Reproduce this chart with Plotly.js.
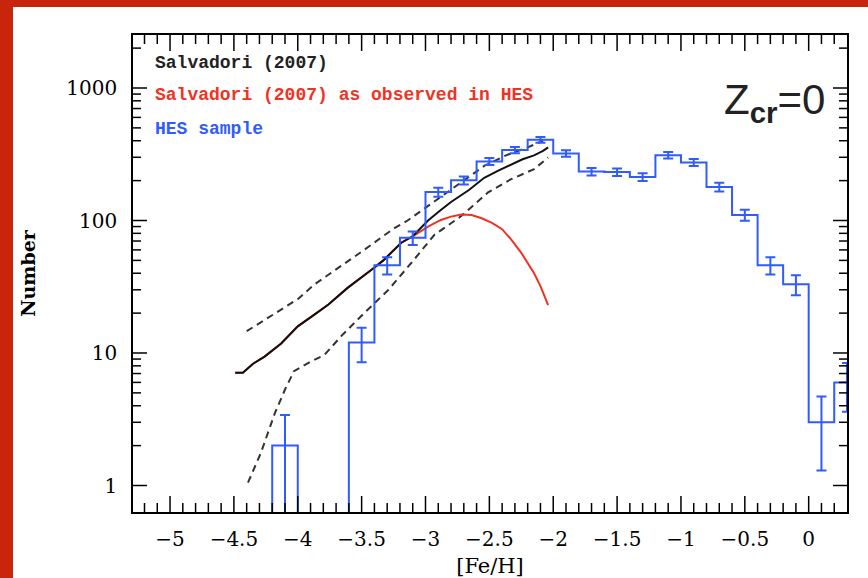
<!DOCTYPE html>
<html>
<head>
<meta charset="utf-8">
<script src="https://cdn.plot.ly/plotly-3.0.1.min.js"></script>
<style>
  html, body { margin: 0; padding: 0; background: #c8260c; width: 868px; height: 578px; overflow: hidden; }
  #chart { position: absolute; left: 13px; top: 7px; width: 855px; height: 571px; background: #fff; }
</style>
</head>
<body>
<div id="chart"></div>
<script>
// ---- HES sample histogram (bin edges and counts) ----
const hesEdges  = [-4.2, -4.0, -3.6, -3.4, -3.2, -3.0, -2.8, -2.6, -2.4, -2.2, -2.0, -1.8, -1.6, -1.4, -1.2, -1.0, -0.8, -0.6, -0.4, -0.2, 0.0, 0.2, 0.4];
const hesCounts = [2, 0, 12, 46, 74, 164, 201, 279, 340, 406, 321, 234, 232, 213, 311, 274, 179, 110, 46, 33, 3, 6];

// error bars (bin centres, counts, errors)
const errX   = [-4.1, -3.5, -3.3, -3.1, -2.9, -2.7, -2.5, -2.3, -2.1, -1.9, -1.7, -1.5, -1.3, -1.1, -0.9, -0.7, -0.5, -0.3, -0.1, 0.1, 0.3];
const errY   = [2, 12, 46, 74, 164, 201, 279, 340, 406, 321, 234, 232, 213, 311, 274, 179, 110, 46, 33, 3, 6];
const errVal = [1.4, 3.5, 6.8, 8.6, 12.8, 14.2, 16.7, 18.4, 20.1, 17.9, 15.3, 15.2, 14.6, 17.6, 16.6, 13.4, 10.5, 6.8, 5.7, 1.7, 2.4];

// ---- Salvadori (2007) model ----
const salvX = [-4.49, -4.43, -4.35, -4.26, -4.13, -4.00, -3.87, -3.76, -3.61, -3.50, -3.42, -3.33, -3.27, -3.19, -3.10, -2.98, -2.88, -2.80, -2.66, -2.54, -2.43, -2.33, -2.24, -2.15, -2.08, -2.04];
const salvY = [7.1, 7.1, 8.3, 9.4, 11.8, 15.9, 19.5, 23.2, 31, 37, 42.7, 50, 57, 68, 76, 100, 120, 138, 170, 210, 238, 265, 290, 310, 335, 356];

// ---- Salvadori (2007) as observed in HES ----
const obsX = [-4.49, -4.43, -4.35, -4.26, -4.13, -4.00, -3.87, -3.76, -3.61, -3.50, -3.42, -3.33, -3.27, -3.19, -3.10, -2.98, -2.88, -2.80, -2.72, -2.64, -2.56, -2.48, -2.40, -2.33, -2.25, -2.20, -2.15, -2.10, -2.06, -2.04];
const obsY = [7.1, 7.1, 8.3, 9.4, 11.8, 15.9, 19.5, 23.2, 31, 37, 42.7, 50, 57, 68, 76, 90, 101, 107, 111, 110, 104, 96, 86, 72, 57, 48, 40, 32, 26, 23];

// ---- dashed envelope (upper / lower) ----
const upX = [-4.40, -4.30, -4.13, -4.00, -3.87, -3.74, -3.61, -3.48, -3.35, -3.24, -3.14, -3.00, -2.85, -2.70, -2.54, -2.37, -2.20, -2.08];
const upY = [14.6, 16.8, 21.3, 25.5, 32.9, 40, 49.3, 60, 74, 88, 100, 125, 158, 200, 258, 310, 356, 400];
const loX = [-4.39, -4.29, -4.18, -4.10, -4.03, -3.92, -3.79, -3.66, -3.48, -3.29, -3.11, -2.93, -2.72, -2.51, -2.33, -2.15, -2.04];
const loY = [1.05, 1.75, 3.5, 5.3, 7.3, 8.4, 9.7, 13.4, 20, 30, 48, 78, 108, 163, 205, 244, 299];

// tick labels
const yTickVals = [1, 10, 100, 1000];
const yTickText = ['1', '10', '100', '1000'];

const BLUE = '#2f5bff', RED = '#ee3324', BLACK = '#111111';

// axis ranges
const X_RANGE = [-5.29, 0.30];
const Y_LOG_RANGE = [-0.2, 3.4];

// build step histogram (zero counts sit below the log axis)
const FLOOR = 1e-3;
const stepX = [hesEdges[0]], stepY = [FLOOR];
for (let i = 0; i < hesCounts.length; i++) {
  stepX.push(hesEdges[i]);
  stepY.push(hesCounts[i] > 0 ? hesCounts[i] : FLOOR);
}
stepX.push(hesEdges[hesEdges.length - 1]);
stepY.push(hesCounts[hesCounts.length - 1] > 0 ? hesCounts[hesCounts.length - 1] : FLOOR);

const traces = [
  { x: loX, y: loY, mode: 'lines', line: { color: '#333', width: 2, dash: '7px,5px' } },
  { x: upX, y: upY, mode: 'lines', line: { color: '#333', width: 2, dash: '7px,5px' } },
  { x: obsX, y: obsY, mode: 'lines', line: { color: RED, width: 2 } },
  { x: salvX, y: salvY, mode: 'lines', line: { color: BLACK, width: 2 } },
  { x: stepX, y: stepY, mode: 'lines', line: { color: BLUE, width: 2, shape: 'hv' } },
  { x: errX, y: errY, mode: 'markers', marker: { size: 1, color: BLUE, opacity: 0 },
    error_y: { type: 'data', array: errVal, arrayminus: errVal, visible: true, color: BLUE, thickness: 2, width: 5 } }
];

// ---- tick marks on all four sides of the frame (inside ticks) ----
const PLOT_W = 855 - 120 - 21, PLOT_H = 571 - 28 - 66;
const tickLine = { color: '#000', width: 1.5 };
const shapes = [];
for (let i = -52; i <= 2; i++) {               // x ticks every 0.1, major every 0.5
  const v = i / 10;
  const len = (i % 5 === 0 ? 16 : 9) / PLOT_H;
  shapes.push({ type: 'line', xref: 'x', yref: 'paper', x0: v, x1: v, y0: 0, y1: len, line: tickLine });
  shapes.push({ type: 'line', xref: 'x', yref: 'paper', x0: v, x1: v, y0: 1, y1: 1 - len, line: tickLine });
}
for (let d = 0; d <= 3; d++) {                  // y ticks at 1..9 x 10^d, major at decades
  for (let k = 1; k <= 9; k++) {
    const lv = d + Math.log10(k);
    if (lv <= Y_LOG_RANGE[0] || lv >= Y_LOG_RANGE[1]) continue;
    const py = (lv - Y_LOG_RANGE[0]) / (Y_LOG_RANGE[1] - Y_LOG_RANGE[0]);
    const len = (k === 1 ? 14 : 8) / PLOT_W;
    shapes.push({ type: 'line', xref: 'paper', yref: 'paper', x0: 0, x1: len, y0: py, y1: py, line: tickLine });
    shapes.push({ type: 'line', xref: 'paper', yref: 'paper', x0: 1, x1: 1 - len, y0: py, y1: py, line: tickLine });
  }
}

const tickFont = { family: 'DejaVu Serif', size: 20, color: '#000' };

const layout = {
  width: 855, height: 571,
  margin: { l: 120, r: 21, t: 28, b: 66 },
  paper_bgcolor: '#ffffff', plot_bgcolor: '#ffffff',
  showlegend: false,
  xaxis: {
    range: X_RANGE, showgrid: false, zeroline: false,
    showline: true, linecolor: '#000', linewidth: 1.5, mirror: true,
    ticks: '', tickmode: 'linear', tick0: 0, dtick: 0.5,
    tickfont: tickFont, ticklabelstandoff: 8,
    title: { text: '[Fe/H]', font: { family: 'DejaVu Serif', size: 21, color: '#000' }, standoff: 12 }
  },
  yaxis: {
    type: 'log', range: Y_LOG_RANGE, showgrid: false, zeroline: false,
    showline: true, linecolor: '#000', linewidth: 1.5, mirror: true,
    ticks: '', tickmode: 'array', tickvals: yTickVals, ticktext: yTickText,
    tickfont: tickFont, ticklabelstandoff: 10,
    title: { text: '<b>Number</b>', font: { family: 'DejaVu Serif', size: 19, color: '#000' }, standoff: 26 }
  },
  shapes: shapes,
  annotations: [
    { xref: 'paper', yref: 'paper', x: 0.028, y: 0.9407, xanchor: 'left', yanchor: 'middle', showarrow: false,
      text: '<b>Salvadori (2007)</b>', font: { family: 'Liberation Mono', size: 18, color: '#222' } },
    { xref: 'paper', yref: 'paper', x: 0.028, y: 0.8742, xanchor: 'left', yanchor: 'middle', showarrow: false,
      text: '<b>Salvadori (2007) as observed in HES</b>', font: { family: 'Liberation Mono', size: 18, color: RED } },
    { xref: 'paper', yref: 'paper', x: 0.028, y: 0.8029, xanchor: 'left', yanchor: 'middle', showarrow: false,
      text: '<b>HES sample</b>', font: { family: 'Liberation Mono', size: 18, color: BLUE } },
    { xref: 'paper', yref: 'paper', x: 0.972, y: 0.858, xanchor: 'right', yanchor: 'middle', showarrow: false,
      text: 'Z<sub><b>cr</b></sub>=0', font: { family: 'Liberation Sans', size: 42, color: '#222' } }
  ]
};

Plotly.newPlot('chart', traces, layout, { displayModeBar: false });
</script>
</body>
</html>
